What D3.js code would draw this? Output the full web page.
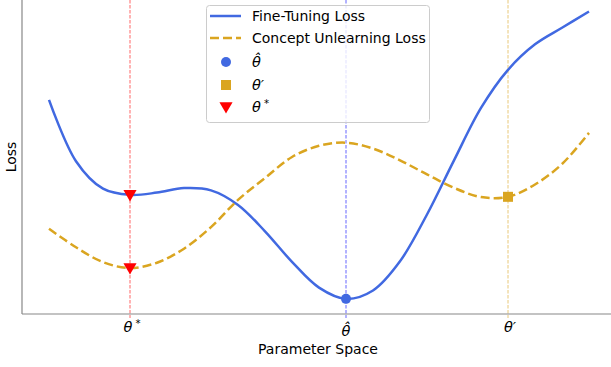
<!DOCTYPE html>
<html lang="en">
<head>
    <meta charset="UTF-8">
    <title>Loss landscape</title>
    <script src="https://d3js.org/d3.v7.min.js"></script>
    <style>
        body { margin: 0; background: #fff; }
        text { font-family: "DejaVu Sans", sans-serif; fill: #000; }
    </style>
</head>
<body>
<svg></svg>
<script>

    // curve samples, x in parameter units, y in loss units
    var paramX = [0, 0.5, 1, 1.5, 2, 2.5, 3, 3.5, 4, 4.5, 5, 5.5, 6, 6.5, 7, 7.5, 8, 8.5, 9, 9.5, 10];
    var fineY = [7.64, 5.45, 4.47, 4.25, 4.33, 4.49, 4.41, 3.89, 2.95, 1.86, 0.94, 0.54, 0.84, 1.88, 3.55, 5.48,
                 7.35, 8.71, 9.62, 10.21, 10.79];
    var unlearnY = [3.04, 2.38, 1.85, 1.64, 1.83, 2.33, 3.1, 4.07, 4.85, 5.6, 6.0, 6.11, 5.9, 5.48, 4.98, 4.5,
                    4.17, 4.18, 4.62, 5.35, 6.46];

    // special points
    var thetaNames = ["star", "hat", "prime"];
    var thetaX = [1.5, 5.5, 8.5];
    var hatPoint = [5.5, 0.54];
    var primePoint = [8.5, 4.18];
    var starPoints = [[1.5, 4.25], [1.5, 1.64]];

    var legendLabels = ["Fine-Tuning Loss", "Concept Unlearning Loss"];

    var blue = "#4169e1", gold = "#daa520", red = "#ff0000";
    var thetaColors = [red, "#0000ff", gold];

    var width = 611, height = 367;
    var svg = d3.select("svg").attr("width", width).attr("height", height);

    var xScale = d3.scaleLinear().domain([-0.5, 10.5]).range([22, 616]);
    var yScale = d3.scaleLinear().domain([0, 11.2]).range([314, 0]);

    var line = d3.line()
            .x(function (d) { return xScale(d[0]); })
            .y(function (d) { return yScale(d[1]); })
            .curve(d3.curveCatmullRom.alpha(0.5));

    var fine = paramX.map(function (x, i) { return [x, fineY[i]]; });
    var unlearn = paramX.map(function (x, i) { return [x, unlearnY[i]]; });

    // vertical reference lines
    svg.selectAll(".vline")
            .data(thetaX)
            .enter()
            .append("line")
            .attr("class", "vline")
            .attr("x1", function (d) { return xScale(d); })
            .attr("x2", function (d) { return xScale(d); })
            .attr("y1", -5)
            .attr("y2", 318)
            .attr("stroke", function (d, i) { return thetaColors[i]; })
            .attr("stroke-width", 1)
            .attr("stroke-opacity", 0.6)
            .attr("stroke-dasharray", "3.5,1.5");

    // curves
    svg.append("path")
            .attr("d", line(fine))
            .attr("fill", "none")
            .attr("stroke", blue)
            .attr("stroke-width", 2.5);

    svg.append("path")
            .attr("d", line(unlearn))
            .attr("fill", "none")
            .attr("stroke", gold)
            .attr("stroke-width", 2.5)
            .attr("stroke-dasharray", "9,4");

    // markers
    var tri = d3.symbol().type(d3.symbolTriangle).size(75);
    svg.selectAll(".star")
            .data(starPoints)
            .enter()
            .append("path")
            .attr("class", "star")
            .attr("d", tri)
            .attr("fill", red)
            .attr("transform", function (d) {
                return "translate(" + xScale(d[0]) + "," + (yScale(d[1]) - 1) + ") rotate(180)";
            });

    svg.append("circle")
            .attr("cx", xScale(hatPoint[0]))
            .attr("cy", yScale(hatPoint[1]))
            .attr("r", 5)
            .attr("fill", blue);

    svg.append("rect")
            .attr("x", xScale(primePoint[0]) - 5)
            .attr("y", yScale(primePoint[1]) - 5)
            .attr("width", 10)
            .attr("height", 10)
            .attr("fill", gold);

    // spines
    svg.append("line").attr("x1", 22).attr("x2", 22).attr("y1", 0).attr("y2", 314)
            .attr("stroke", "#888").attr("stroke-width", 1.2);
    svg.append("line").attr("x1", 22).attr("x2", 611).attr("y1", 314).attr("y2", 314)
            .attr("stroke", "#888").attr("stroke-width", 1.2);

    // theta labels (mathtext style)
    function thetaLabel(g, kind, fs, anchor) {
        var t = g.append("text")
                .attr("text-anchor", anchor)
                .style("font-size", fs + "px")
                .style("font-style", "italic");
        if (kind === "star") {
            t.append("tspan").text("θ");
            t.append("tspan").attr("dy", -5).style("font-size", (fs * 0.7) + "px")
                    .style("font-style", "normal").text(" *");
        } else if (kind === "prime") {
            t.append("tspan").text("θ′");
        } else {
            t.append("tspan").text("θ\u0302");
        }
    }

    thetaNames.forEach(function (k, i) {
        var g = svg.append("g")
                .attr("transform", "translate(" + (xScale(thetaX[i]) + (k === "hat" ? 0 : 2)) + "," + (k === "hat" ? 336 : 332) + ")");
        thetaLabel(g, k, 14.5, "middle");
    });

    svg.append("text")
            .attr("x", 318)
            .attr("y", 354)
            .attr("text-anchor", "middle")
            .style("font-size", "14px")
            .text("Parameter Space");

    svg.append("text")
            .attr("transform", "translate(16,157) rotate(-90)")
            .attr("text-anchor", "middle")
            .style("font-size", "14px")
            .text("Loss");

    // legend
    var legend = svg.append("g");
    legend.append("rect")
            .attr("x", 206.5).attr("y", 5.5)
            .attr("width", 223).attr("height", 117)
            .attr("rx", 3)
            .attr("fill", "#fff").attr("fill-opacity", 0.8)
            .attr("stroke", "#ccc");

    var rowY = [16, 38, 62, 85, 107];
    legend.append("line").attr("x1", 210).attr("x2", 241).attr("y1", rowY[0]).attr("y2", rowY[0])
            .attr("stroke", blue).attr("stroke-width", 2.5);
    legend.append("line").attr("x1", 210).attr("x2", 241).attr("y1", rowY[1]).attr("y2", rowY[1])
            .attr("stroke", gold).attr("stroke-width", 2.5).attr("stroke-dasharray", "9,4");
    legend.append("circle").attr("cx", 226).attr("cy", rowY[2]).attr("r", 5).attr("fill", blue);
    legend.append("rect").attr("x", 221).attr("y", rowY[3] - 5).attr("width", 10).attr("height", 10).attr("fill", gold);
    legend.append("path").attr("d", tri).attr("fill", red)
            .attr("transform", "translate(226," + (rowY[4] - 1) + ") rotate(180)");

    legendLabels.forEach(function (s, i) {
        legend.append("text")
                .attr("x", 252)
                .attr("y", rowY[i] + 5)
                .style("font-size", "14px")
                .text(s);
    });
    ["hat", "prime", "star"].forEach(function (k, i) {
        var g = legend.append("g").attr("transform", "translate(252," + (rowY[i + 2] + 5) + ")");
        thetaLabel(g, k, 14.5, "start");
    });

</script>
</body>
</html>
